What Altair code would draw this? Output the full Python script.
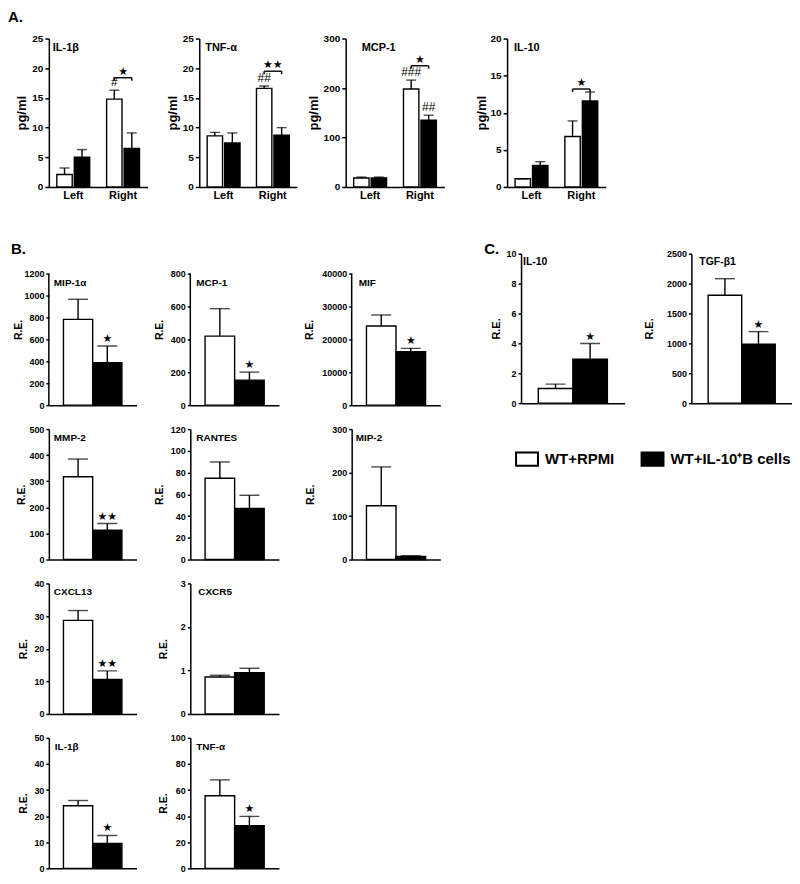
import altair as alt
import pandas as pd

FONT = "Liberation Sans"
STAR_FONT = "DejaVu Sans"
GROUPS = ["WT+RPMI", "WT+IL-10\u207aB cells"]
SIDES = ["Left", "Right"]

# ---------------- Panel A (pg/ml), order: Left WT, Left IL-10B, Right WT, Right IL-10B
A_names = ["IL-1β", "TNF-α", "MCP-1", "IL-10"]
A_ymax = [25, 25, 300, 20]
A_step = [5, 5, 100, 5]
A_mean = [[2.1, 5.0, 14.8, 6.5], [8.6, 7.4, 16.6, 8.7], [18, 18, 198, 135], [1.1, 2.9, 6.8, 11.6]]
A_top = [[3.2, 6.3, 16.3, 9.1], [9.2, 9.1, 17.0, 10.0], [20, 20, 216, 145], [1.1, 3.4, 8.9, 12.8]]
A_hash = [["", "", "#", ""], ["", "", "##", ""], ["", "", "###", "##"], ["", "", "", ""]]
A_bracket = [18.4, 19.5, 245, 13.2]
A_stars = ["★", "★★", "★", "★"]

# ---------------- Panel B (R.E.)
B_names = ["MIP-1α", "MCP-1", "MIF", "MMP-2", "RANTES", "MIP-2", "CXCL13", "CXCR5", "IL-1β", "TNF-α"]
B_ymax = [1200, 800, 40000, 500, 120, 300, 40, 3, 50, 100]
B_step = [200, 200, 10000, 100, 20, 100, 10, 1, 10, 20]
B_mean = [[783, 387], [420, 152], [24070, 16260], [317, 112], [74.8, 47], [123.7, 7],
          [28.7, 10.6], [0.85, 0.95], [24.0, 9.5], [55.6, 32.7]]
B_top = [[966, 540], [587, 201], [27420, 17270], [385, 138], [89.7, 59.1], [213, 9],
         [31.7, 13.2], [0.89, 1.05], [26.0, 12.6], [67.8, 39.8]]
B_stars = [["", "★"], ["", "★"], ["", "★"], ["", "★★"], ["", ""], ["", ""],
           ["", "★★"], ["", ""], ["", "★"], ["", "★"]]

# ---------------- Panel C (R.E.)
C_names = ["IL-10", "TGF-β1"]
C_ymax = [10, 2500]
C_step = [2, 500]
C_mean = [[0.98, 2.94], [1804, 985]]
C_top = [[1.27, 3.99], [2082, 1197]]
C_stars = [["", "★"], ["", "★"]]

fill_enc = alt.Fill(
    "group:N",
    scale=alt.Scale(domain=GROUPS, range=["white", "black"]),
    legend=alt.Legend(
        title=None, orient="none", legendX=468, legendY=410, direction="horizontal",
        symbolType="M-1,-0.6H1V0.6H-1Z", symbolSize=484, symbolStrokeColor="black",
        symbolStrokeWidth=2, labelFont=FONT, labelFontSize=15, labelFontWeight="bold",
        labelColor="black", labelOffset=6, columnPadding=23, padding=0,
    ),
)


def label_layer(text, dx, dy, size, baseline="middle"):
    return alt.Chart(pd.DataFrame({"t": [text]})).mark_text(
        align="left", baseline=baseline, font=FONT, fontSize=size, fontWeight="bold", color="black"
    ).encode(x=alt.value(dx), y=alt.value(dy), text="t:N")


def spacer(w, h=1):
    return alt.Chart(pd.DataFrame({"s": [0]})).mark_point(size=1, opacity=0).encode(
        x=alt.value(0), y=alt.value(0)
    ).properties(width=w, height=h)


def panel_A(i, width, title_dx, ext, letter=None):
    keys = [(s, g) for s in SIDES for g in GROUPS]
    df = pd.DataFrame({"side": [k[0] for k in keys], "group": [k[1] for k in keys],
                       "mean": A_mean[i], "top": A_top[i], "hash": A_hash[i]})
    br = pd.DataFrame({"side": ["Right", "Right"], "group": GROUPS, "v": [A_bracket[i]] * 2})
    st = pd.DataFrame({"side": ["Right"], "v": [A_bracket[i]], "star": [A_stars[i]]})
    ymax = A_ymax[i]
    xsc = alt.Scale(domain=SIDES, paddingInner=0.34, paddingOuter=0.16)
    xax = alt.Axis(title=None, labelAngle=0, ticks=False, labelFontSize=11, labelPadding=3)
    X = alt.X("side:N", scale=xsc, axis=xax)
    XO = alt.XOffset("group:N", scale=alt.Scale(domain=GROUPS, paddingInner=0.12))
    ysc = alt.Scale(domain=[0, ymax], nice=False)
    yax = alt.Axis(title="pg/ml", values=list(range(0, ymax + 1, A_step[i])), format="d",
                   labelFontSize=10, titleFontSize=13, minExtent=ext, maxExtent=ext, titlePadding=3)

    def Y(f):
        return alt.Y(f + ":Q", scale=ysc, axis=yax)

    base = alt.Chart(df)
    bars = base.mark_bar(stroke="black", strokeWidth=1.4).encode(x=X, xOffset=XO, y=Y("mean"), fill=fill_enc)
    err = base.mark_rule(color="black", strokeWidth=1.4).encode(x=X, xOffset=XO, y=Y("mean"), y2="top:Q")
    cap = base.mark_tick(color="black", size=10, thickness=1.4).encode(x=X, xOffset=XO, y=Y("top"))
    hsh = base.mark_text(baseline="bottom", dy=-1, font=FONT, fontSize=12, color="black").encode(
        x=X, xOffset=XO, y=Y("top"), text="hash:N")
    bline = alt.Chart(br).mark_line(color="black", strokeWidth=1.4).encode(x=X, xOffset=XO, y=Y("v"))
    bend = alt.Chart(br).mark_point(shape="M0,0L0,1", size=36, color="black", strokeWidth=1.4,
                                    filled=False, opacity=1).encode(x=X, xOffset=XO, y=Y("v"))
    star = alt.Chart(st).mark_text(baseline="bottom", dy=-1, font=STAR_FONT, fontSize=11, color="black").encode(
        x=X, y=Y("v"), text="star:N")
    layers = [bars, err, cap, hsh, bline, bend, star, label_layer(A_names[i], title_dx, 10, 11)]
    if letter:
        layers.append(label_layer(letter, -41, -29, 15, baseline="top"))
    return alt.layer(*layers).properties(width=width, height=149)


def panel_RE(name, ymax, step, mean, top, stars, width, height, title_dx, title_dy,
             tick_fs, title_fs, name_fs, ext, extra_top=0, letter=None, letter_dx=0, letter_dy=0):
    """extra_top: blank pixels kept above the axis top (the y axis line is drawn up to ymax only)."""
    df = pd.DataFrame({"group": GROUPS, "mean": mean, "top": top, "star": stars})
    X = alt.X("group:N", scale=alt.Scale(domain=GROUPS, paddingInner=0, paddingOuter=0.5),
              axis=alt.Axis(title=None, labels=False, ticks=False))
    dom_max = ymax * (height + extra_top) / height
    ysc = alt.Scale(domain=[0, dom_max], nice=False)
    yax = alt.Axis(title="R.E.", values=list(range(0, ymax + 1, step)), format="d",
                   labelFontSize=tick_fs, titleFontSize=title_fs, tickSize=3, titlePadding=3,
                   minExtent=ext, maxExtent=ext, domain=(extra_top == 0))

    def Y(f):
        return alt.Y(f + ":Q", scale=ysc, axis=yax)

    base = alt.Chart(df)
    bars = base.mark_bar(stroke="black", strokeWidth=1.4).encode(x=X, y=Y("mean"), fill=fill_enc)
    err = base.mark_rule(color="black", strokeWidth=1.4).encode(x=X, y=Y("mean"), y2="top:Q")
    cap = base.mark_tick(color="black", size=20, thickness=1.4).encode(x=X, y=Y("top"))
    star = base.mark_text(baseline="bottom", dy=-2, font=STAR_FONT, fontSize=11, color="black").encode(
        x=X, y=Y("top"), text="star:N")
    layers = [bars, err, cap, star, label_layer(name, title_dx, title_dy + extra_top, name_fs)]
    if extra_top:
        ax = pd.DataFrame({"a": [0], "b": [ymax]})
        layers.append(alt.Chart(ax).mark_rule(color="black", strokeWidth=1.5).encode(
            x=alt.value(0), y=Y("a"), y2="b:Q"))
    if letter:
        layers.append(label_layer(letter, letter_dx, letter_dy + extra_top, 15, baseline="top"))
    return alt.layer(*layers).properties(width=width, height=height + extra_top)


B_width = [88, 89, 89, 88, 89, 89, 88, 89, 88, 89]
B_dx = [5, 6, 7, 5, 6, 4, 5, 8, 6, 6]
B_ext = [22, 23, 34, 19, 23, 33, 17, 19, 17, 19]


def pB(k, height, extra_top=0, letter=None):
    return panel_RE(B_names[k], B_ymax[k], B_step[k], B_mean[k], B_top[k], B_stars[k],
                    B_width[k], height, B_dx[k], 9, 9, 10.5, 10, B_ext[k],
                    extra_top=extra_top, letter=letter, letter_dx=-38, letter_dy=-32)


# ---- row A
pA = [panel_A(0, 99, 4, 17, letter="A."), panel_A(1, 98, 6, 17), panel_A(2, 99, 16, 22), panel_A(3, 99, 7, 16)]
rowA = alt.hconcat(pA[0], spacer(52), pA[1], spacer(49), pA[2], spacer(63), pA[3],
                   spacing=0, bounds="flush")

# ---- B grid (first row keeps 20 px blank on top so that its axes start below panel C's)
cells = [pB(0, 132, 20, "B."), spacer(54), pB(1, 132, 20), spacer(73), pB(2, 132, 20),
         pB(3, 131), spacer(54), pB(4, 131), spacer(73), pB(5, 131),
         pB(6, 131), spacer(54), pB(7, 131), spacer(1), spacer(1),
         pB(8, 131), spacer(54), pB(9, 131)]
Bgrid = alt.concat(*cells, columns=5, spacing=alt.RowColnumber(row=24, column=0),
                   align="each", bounds="flush")

# ---- C block
pC0 = panel_RE(C_names[0], C_ymax[0], C_step[0], C_mean[0], C_top[0], C_stars[0], 104, 150, 2, 8,
               9, 11, 10.5, 17, letter="C.", letter_dx=-37, letter_dy=-12)
pC1 = panel_RE(C_names[1], C_ymax[1], C_step[1], C_mean[1], C_top[1], C_stars[1], 101, 150, 8, 8,
               9, 11, 10.5, 34)
Cblock = alt.hconcat(pC0, spacer(67), pC1, spacing=0, bounds="flush")

BC = alt.hconcat(Bgrid, Cblock, spacing=44)

chart = alt.vconcat(rowA, BC, spacing=41).properties(
    padding={"left": 0, "top": 0, "right": 0, "bottom": 0}
).configure(font=FONT).configure_view(stroke=None).configure_axis(
    domainColor="black", domainWidth=1.5, tickColor="black", tickWidth=1.5, tickSize=4,
    labelColor="black", titleColor="black", labelFont=FONT, titleFont=FONT,
    labelFontWeight="bold", titleFontWeight="bold", grid=False, labelPadding=2,
)

chart.save("out.html", embed_options={"renderer": "svg", "actions": False})
